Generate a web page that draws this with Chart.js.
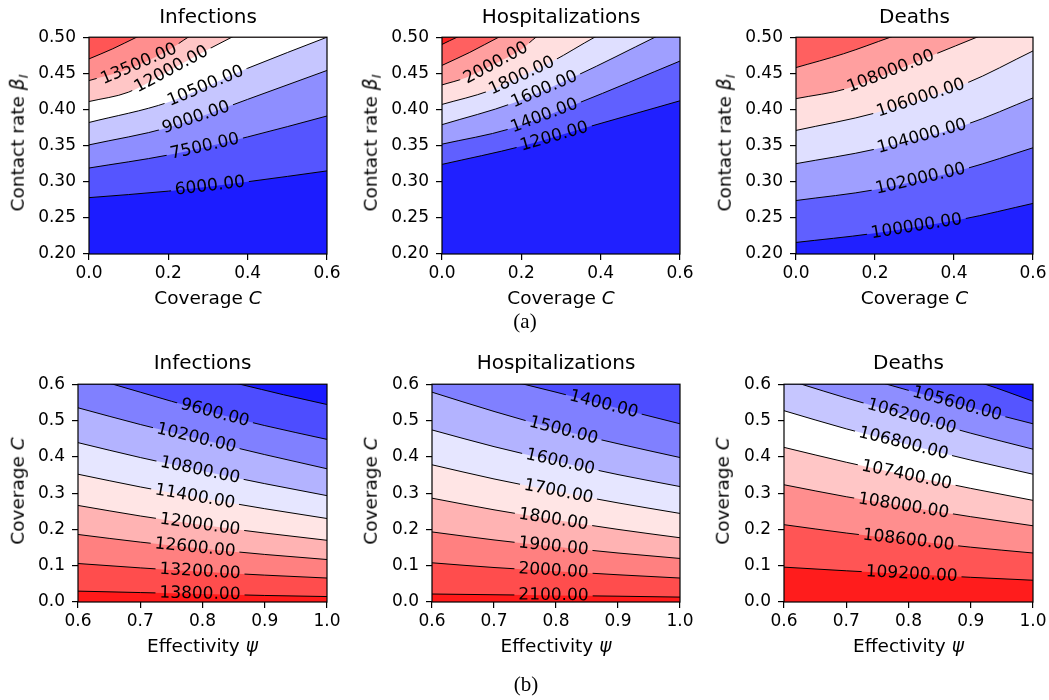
<!DOCTYPE html>
<html>
<head>
<meta charset="utf-8">
<script src="https://cdn.jsdelivr.net/npm/chart.js@4.4.0/dist/chart.umd.min.js"></script>
<style>
  body { margin: 0; background: #fff; }
  #fig { position: relative; width: 1049px; height: 700px; overflow: hidden; font-family: "DejaVu Sans", sans-serif; color: #000; }
  #fig canvas { position: absolute; }
  .txt { position: absolute; transform: translate(-50%, -50%); white-space: nowrap; line-height: 1; }
  .title { font-size: 20px; }
  .xlab { font-size: 18.5px; }
  .ylab { font-size: 18.5px; transform: translate(-50%, -50%) rotate(-90deg); }
  .cap { font-family: "Liberation Serif", "DejaVu Serif", serif; font-size: 21px; }
  .sub { font-size: 70%; position: relative; top: 0.3em; font-style: italic; }
</style>
</head>
<body>
<div id="fig"></div>
<script>
// tick labels
const topXTicks = [0.0, 0.2, 0.4, 0.6];
const topYTicks = [0.20, 0.25, 0.30, 0.35, 0.40, 0.45, 0.50];
const botXTicks = [0.6, 0.7, 0.8, 0.9, 1.0];
const botYTicks = [0.0, 0.1, 0.2, 0.3, 0.4, 0.5, 0.6];

// (a) coverage C vs contact rate beta_I  -- contour lines as [C, beta] points
// (a last point above 0.50 means the line has left the frame; it is clipped)
const infA_levels = [6000, 7500, 9000, 10500, 12000, 13500, 15000];
const infA_lines = [
  [[0, .278], [.2, .287], [.4, .300], [.6, .315]],
  [[0, .319], [.2, .337], [.4, .362], [.6, .391]],
  [[0, .351], [.2, .375], [.4, .414], [.6, .454]],
  [[0, .382], [.2, .410], [.4, .457], [.6, .500]],
  [[0, .411], [.1, .424], [.2, .453], [.3, .483], [.36, .5], [.6, .567]],
  [[0, .440], [.1, .456], [.2, .482], [.25, .5], [.6, .61]],
  [[0, .470], [.06, .484], [.12, .5], [.6, .62]]
];
const infA_labelX = [.305, .292, .27, .294, .208, .126, null];

const hospA_levels = [1200, 1400, 1600, 1800, 2000, 2200, 2400];
const hospA_lines = [
  [[0, .324], [.2, .349], [.37, .376], [.6, .412]],
  [[0, .352], [.17, .373], [.34, .408], [.6, .467]],
  [[0, .379], [.18, .409], [.34, .447], [.537, .5], [.6, .517]],
  [[0, .407], [.12, .426], [.2, .446], [.28, .467], [.385, .5], [.6, .56]],
  [[0, .434], [.06, .444], [.14, .465], [.2, .483], [.237, .5], [.6, .62]],
  [[0, .461], [.07, .479], [.143, .5], [.6, .62]],
  [[0, .490], [.038, .5], [.6, .62]]
];
const hospA_labelX = [.283, .258, .258, .201, .136, null, null];

const deathA_levels = [100000, 102000, 104000, 106000, 108000, 110000];
const deathA_lines = [
  [[0, .216], [.19, .228], [.42, .248], [.6, .270]],
  [[0, .274], [.2, .289], [.43, .318], [.6, .347]],
  [[0, .325], [.2, .345], [.43, .379], [.6, .416]],
  [[0, .371], [.2, .395], [.43, .436], [.6, .481]],
  [[0, .415], [.13, .429], [.35, .476], [.458, .5], [.6, .53]],
  [[0, .458], [.12, .477], [.239, .5], [.6, .57]]
];
const deathA_labelX = [.305, .315, .319, .316, .24, null];

// (b) effectivity psi vs coverage C  -- contour lines as [psi, C] points
// (a first point above 0.6 means the line enters through the top edge)
const infB_levels = [9000, 9600, 10200, 10800, 11400, 12000, 12600, 13200, 13800];
const infB_lines = [
  [[.6, .70], [.86, .6], [.93, .571], [1.0, .544]],
  [[.6, .628], [.656, .6], [.7, .578], [.8, .529], [.9, .486], [1.0, .448]],
  [[.6, .535], [.7, .489], [.8, .447], [.9, .406], [1.0, .367]],
  [[.6, .439], [.7, .398], [.8, .361], [.9, .326], [1.0, .293]],
  [[.6, .352], [.7, .317], [.8, .286], [.9, .257], [1.0, .230]],
  [[.6, .266], [.7, .237], [.8, .212], [.9, .190], [1.0, .170]],
  [[.6, .186], [.7, .165], [.8, .147], [.9, .131], [1.0, .117]],
  [[.6, .106], [.7, .094], [.8, .083], [.9, .074], [1.0, .066]],
  [[.6, .030], [.7, .026], [.8, .022], [.9, .018], [1.0, .015]]
];
const infB_labelX = [null, .82, .79, .796, .788, .796, .788, .796, .796];

const hospB_levels = [1400, 1500, 1600, 1700, 1800, 1900, 2000, 2100];
const hospB_lines = [
  [[.6, .662], [.748, .6], [.8, .578], [.9, .534], [1.0, .491]],
  [[.6, .578], [.7, .525], [.8, .477], [.9, .436], [1.0, .398]],
  [[.6, .474], [.7, .428], [.8, .388], [.9, .351], [1.0, .318]],
  [[.6, .378], [.7, .339], [.8, .305], [.9, .273], [1.0, .244]],
  [[.6, .286], [.7, .254], [.8, .226], [.9, .200], [1.0, .177]],
  [[.6, .193], [.7, .171], [.8, .152], [.9, .135], [1.0, .120]],
  [[.6, .108], [.7, .095], [.8, .085], [.9, .075], [1.0, .066]],
  [[.6, .022], [.7, .020], [.8, .018], [.9, .016], [1.0, .0135]]
];
const hospB_labelX = [.877, .812, .807, .804, .796, .796, .796, .796];

const deathB_levels = [105000, 105600, 106200, 106800, 107400, 108000, 108600, 109200];
const deathB_lines = [
  [[.6, .74], [.923, .6], [.96, .578], [1.0, .553]],
  [[.6, .68], [.765, .6], [.8, .583], [.9, .535], [1.0, .491]],
  [[.6, .615], [.628, .6], [.7, .562], [.8, .513], [.9, .465], [1.0, .421]],
  [[.6, .527], [.7, .477], [.8, .433], [.9, .391], [1.0, .352]],
  [[.6, .426], [.7, .385], [.8, .348], [.9, .313], [1.0, .280]],
  [[.6, .323], [.7, .290], [.8, .262], [.9, .235], [1.0, .210]],
  [[.6, .213], [.7, .190], [.8, .170], [.9, .151], [1.0, .135]],
  [[.6, .096], [.7, .086], [.8, .077], [.9, .068], [1.0, .060]]
];
const deathB_labelX = [null, .878, .805, .792, .797, .792, .80, .805];

// layout / style
const PAD_L = 85, PAD_T = 12, PAD_R = 25, PAD_B = 45;
const LABEL_FONT = '17px "DejaVu Sans"';
const TICK_FONT = { family: 'DejaVu Sans', size: 17 };

const ylabA = 'Contact rate <i>β</i><span class="sub">I</span>';
const ylabB = 'Coverage <i>C</i>';
const xlabA = 'Coverage <i>C</i>';
const xlabB = 'Effectivity <i>ψ</i>';

const panels = [
  { title: 'Infections', levels: infA_levels, lines: infA_lines, labelX: infA_labelX, nLayers: 9, off: 0, up: true,
    box: [89, 32, 327, 254], xt: topXTicks, yt: topYTicks, yDec: 2, ylab: ylabA, xlab: xlabA, ylabX: 18, xlabY: 298, titleY: 15.5 },
  { title: 'Hospitalizations', levels: hospA_levels, lines: hospA_lines, labelX: hospA_labelX, nLayers: 8, off: 0, up: true,
    box: [442, 32, 680, 254], xt: topXTicks, yt: topYTicks, yDec: 2, ylab: ylabA, xlab: xlabA, ylabX: 371, xlabY: 298, titleY: 15.5 },
  { title: 'Deaths', levels: deathA_levels, lines: deathA_lines, labelX: deathA_labelX, nLayers: 8, off: 0, up: true,
    box: [796, 32, 1033, 254], xt: topXTicks, yt: topYTicks, yDec: 2, ylab: ylabA, xlab: xlabA, ylabX: 725, xlabY: 298, titleY: 15.5 },
  { title: 'Infections', levels: infB_levels, lines: infB_lines, labelX: infB_labelX, nLayers: 10, off: 0, up: false,
    box: [78, 379, 327, 602], xt: botXTicks, yt: botYTicks, yDec: 1, ylab: ylabB, xlab: xlabB, ylabX: 18, xlabY: 646, titleY: 361.5 },
  { title: 'Hospitalizations', levels: hospB_levels, lines: hospB_lines, labelX: hospB_labelX, nLayers: 10, off: 1, up: false,
    box: [432, 379, 680, 602], xt: botXTicks, yt: botYTicks, yDec: 1, ylab: ylabB, xlab: xlabB, ylabX: 371, xlabY: 646, titleY: 361.5 },
  { title: 'Deaths', levels: deathB_levels, lines: deathB_lines, labelX: deathB_labelX, nLayers: 9, off: 0, up: false,
    box: [784, 379, 1033, 602], xt: botXTicks, yt: botYTicks, yDec: 1, ylab: ylabB, xlab: xlabB, ylabX: 723, xlabY: 646, titleY: 361.5 }
];

// matplotlib 'bwr' colormap
function bwr(t) {
  let r, g, b;
  if (t < 0.5) { r = g = 2 * t; b = 1; } else { r = 1; g = b = 2 - 2 * t; }
  return `rgb(${Math.round(r * 255)},${Math.round(g * 255)},${Math.round(b * 255)})`;
}

function yAt(pts, xv) {
  if (xv <= pts[0][0]) return pts[0][1];
  for (let i = 1; i < pts.length; i++) {
    if (xv <= pts[i][0]) {
      const [x0, y0] = pts[i - 1], [x1, y1] = pts[i];
      return y0 + (y1 - y0) * (xv - x0) / (x1 - x0);
    }
  }
  return pts[pts.length - 1][1];
}

function contourPlugin(p, topColor) {
  return {
    id: 'contour',
    beforeDatasetsDraw(chart) {
      const { ctx, chartArea: a, scales: { x, y } } = chart;
      ctx.save();
      ctx.fillStyle = topColor;
      ctx.fillRect(a.left, a.top, a.right - a.left, a.bottom - a.top);
      ctx.font = LABEL_FONT;
      chart.$labels = chart.data.datasets.map(ds => {
        const lx = p.labelX[ds.lvl];
        if (lx == null) return null;
        const pts = p.lines[ds.lvl];
        const text = p.levels[ds.lvl].toFixed(2);
        const w = ctx.measureText(text).width;
        const cx = x.getPixelForValue(lx);
        const cy = y.getPixelForValue(yAt(pts, lx));
        const xa = x.getValueForPixel(cx - w / 2), xb = x.getValueForPixel(cx + w / 2);
        const ang = Math.atan2(
          y.getPixelForValue(yAt(pts, xb)) - y.getPixelForValue(yAt(pts, xa)),
          x.getPixelForValue(xb) - x.getPixelForValue(xa));
        return { text, w, cx, cy, ang };
      });
      ctx.restore();
    },
    // cut the contour line where its label sits (fill is already drawn)
    beforeDatasetDraw(chart, args) {
      const lab = chart.$labels && chart.$labels[args.index];
      if (!lab) return;
      const ctx = chart.ctx;
      const hw = lab.w / 2 + 4, hh = 9;
      const c = Math.cos(lab.ang), s = Math.sin(lab.ang);
      const corner = (u, v) => [lab.cx + u * c - v * s, lab.cy + u * s + v * c];
      ctx.save();
      ctx.beginPath();
      ctx.rect(0, 0, chart.width, chart.height);
      const q = [corner(-hw, -hh), corner(hw, -hh), corner(hw, hh), corner(-hw, hh)];
      ctx.moveTo(q[0][0], q[0][1]);
      q.slice(1).forEach(pt => ctx.lineTo(pt[0], pt[1]));
      ctx.closePath();
      ctx.clip('evenodd');
    },
    afterDatasetDraw(chart, args) {
      const lab = chart.$labels && chart.$labels[args.index];
      if (lab) chart.ctx.restore();
    },
    afterDatasetsDraw(chart) {
      const { ctx, chartArea: a } = chart;
      ctx.save();
      ctx.font = LABEL_FONT;
      ctx.fillStyle = '#000';
      ctx.textAlign = 'center';
      ctx.textBaseline = 'middle';
      (chart.$labels || []).forEach(lab => {
        if (!lab) return;
        ctx.save();
        ctx.translate(lab.cx, lab.cy);
        ctx.rotate(lab.ang);
        ctx.fillText(lab.text, 0, 0);
        ctx.restore();
      });
      ctx.strokeStyle = '#000';
      ctx.lineWidth = 1.2;
      ctx.strokeRect(a.left, a.top, a.right - a.left, a.bottom - a.top);
      ctx.restore();
    }
  };
}

const fig = document.getElementById('fig');

function addText(cls, html, x, y) {
  const d = document.createElement('div');
  d.className = 'txt ' + cls;
  d.innerHTML = html;
  d.style.left = x + 'px';
  d.style.top = y + 'px';
  fig.appendChild(d);
}

panels.forEach(p => {
  const [L, T, R, B] = p.box;
  const cv = document.createElement('canvas');
  cv.width = (R - L) + PAD_L + PAD_R;
  cv.height = (B - T) + PAD_T + PAD_B;
  cv.style.left = (L - PAD_L) + 'px';
  cv.style.top = (T - PAD_T) + 'px';
  cv.style.width = cv.width + 'px';
  cv.style.height = cv.height + 'px';
  fig.appendChild(cv);

  const K = p.levels.length;
  const layerColor = i => bwr((i + p.off + 0.5) / p.nLayers);
  const belowColor = k => p.up ? layerColor(k) : layerColor(k + 1);
  const topColor = p.up ? layerColor(K) : layerColor(0);

  // datasets ordered bottom-most line first (Chart.js paints index 0 last)
  const order = [...Array(K).keys()];
  if (!p.up) order.reverse();
  const datasets = order.map(k => ({
    lvl: k,
    data: p.lines[k].map(([x, y]) => ({ x, y })),
    borderColor: '#000',
    borderWidth: 1,
    backgroundColor: belowColor(k),
    fill: 'start',
    pointRadius: 0,
    cubicInterpolationMode: 'monotone'
  }));

  const axisCommon = {
    type: 'linear',
    border: { display: false },
    grid: { drawOnChartArea: false, drawTicks: true, tickLength: 6, color: '#000', lineWidth: 1.2 }
  };

  new Chart(cv, {
    type: 'line',
    data: { datasets },
    options: {
      responsive: false,
      animation: false,
      events: [],
      layout: { padding: { left: 0, top: PAD_T, right: PAD_R, bottom: 0 } },
      plugins: { legend: { display: false }, tooltip: { enabled: false } },
      scales: {
        x: Object.assign({}, axisCommon, {
          min: p.xt[0], max: p.xt[p.xt.length - 1],
          afterBuildTicks: s => { s.ticks = p.xt.map(v => ({ value: v })); },
          afterFit: s => { s.height = PAD_B; },
          ticks: { autoSkip: false, maxRotation: 0, padding: 3, color: '#000', font: TICK_FONT, callback: v => v.toFixed(1) }
        }),
        y: Object.assign({}, axisCommon, {
          min: p.yt[0], max: p.yt[p.yt.length - 1],
          afterBuildTicks: s => { s.ticks = p.yt.map(v => ({ value: v })); },
          afterFit: s => { s.width = PAD_L; },
          ticks: { autoSkip: false, padding: 7, color: '#000', font: TICK_FONT, callback: v => v.toFixed(p.yDec) }
        })
      }
    },
    plugins: [contourPlugin(p, topColor)]
  });

  const cx = (L + R) / 2;
  addText('title', p.title, cx, p.titleY);
  addText('xlab', p.xlab, cx, p.xlabY);
  addText('ylab', p.ylab, p.ylabX, (T + B) / 2);
});

addText('cap', '(a)', 525, 321);
addText('cap', '(b)', 526, 684);
</script>
</body>
</html>
